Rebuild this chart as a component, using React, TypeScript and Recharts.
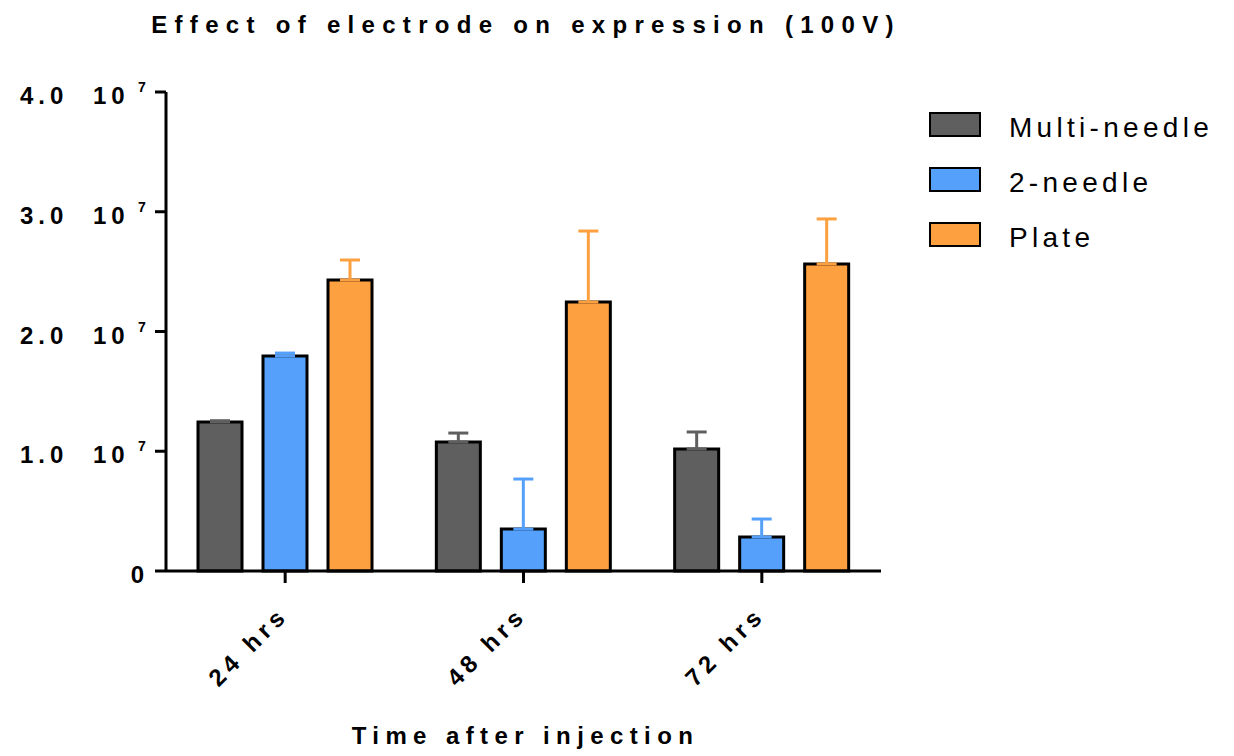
import React from "react";
import { BarChart, Bar, XAxis, YAxis, ErrorBar } from "recharts";

const categories = ["24 hrs", "48 hrs", "72 hrs"];
const multiNeedle = [1.245e7, 1.077e7, 1.019e7];
const multiNeedleErr = [0.01e7, 0.075e7, 0.142e7];
const twoNeedle = [1.795e7, 0.35e7, 0.284e7];
const twoNeedleErr = [0.025e7, 0.418e7, 0.15e7];
const plate = [2.43e7, 2.246e7, 2.564e7];
const plateErr = [0.167e7, 0.593e7, 0.376e7];
const yTicks = [0, 1e7, 2e7, 3e7, 4e7];

const seriesNames = ["Multi-needle", "2-needle", "Plate"];
const colors = ["#5f5f5f", "#55a0fb", "#fda040"];

const data = categories.map((c, i) => ({
  name: c,
  multi: multiNeedle[i],
  multiErr: [0, multiNeedleErr[i]],
  two: twoNeedle[i],
  twoErr: [0, twoNeedleErr[i]],
  plate: plate[i],
  plateErr: [0, plateErr[i]],
}));

const FONT = "'Liberation Sans', Arial, sans-serif";

// Y tick: mantissa, then "10" with a raised exponent
const YTick = (props: any) => {
  const { x, y, payload } = props;
  const v = payload.value as number;
  const axisX = x + 13;
  const base = y + 12;
  if (v === 0) {
    return (
      <text x={axisX - 22} y={base} textAnchor="end" fontFamily={FONT} fontWeight="bold" fontSize={24} fill="#000">
        0
      </text>
    );
  }
  const mant = (v / 1e7).toFixed(1);
  return (
    <g fontFamily={FONT} fontWeight="bold" fill="#000">
      <text x={axisX - 146} y={base} fontSize={24} letterSpacing={5}>
        {mant}
      </text>
      <text x={axisX - 73} y={base} fontSize={24} letterSpacing={5}>
        10
      </text>
      <text x={axisX - 28} y={base - 12} fontSize={14}>
        7
      </text>
    </g>
  );
};

const XTick = (props: any) => {
  const { x, y, payload } = props;
  return (
    <g transform={`translate(${x + 1},${y + 35})`}>
      <text
        x={0}
        y={0}
        dx={5}
        transform="rotate(-45)"
        textAnchor="end"
        fontFamily={FONT}
        fontWeight="bold"
        fontSize={24}
        letterSpacing={5}
        fill="#000"
      >
        {payload.value}
      </text>
    </g>
  );
};

const LegendBox = () => (
  <div style={{ position: "absolute", left: 929, top: 112 }}>
    {seriesNames.map((n, i) => (
      <div key={n} style={{ position: "absolute", left: 0, top: i * 55, width: 300, height: 26 }}>
        <div
          style={{
            position: "absolute",
            left: 0,
            top: 0,
            width: 48,
            height: 21,
            background: colors[i],
            border: "2.5px solid #000",
          }}
        />
        <div
          style={{
            position: "absolute",
            left: 80,
            top: 0,
            fontFamily: FONT,
            fontSize: 28,
            lineHeight: "32px",
            letterSpacing: 4.3,
            color: "#000",
            whiteSpace: "nowrap",
          }}
        >
          {n}
        </div>
      </div>
    ))}
  </div>
);

export default function App() {
  return (
    <div style={{ position: "absolute", left: 0, top: 0, width: 1234, height: 756, background: "#fff" }}>
      <div
        style={{
          position: "absolute",
          left: 0,
          width: 1052,
          top: 11,
          textAlign: "center",
          fontFamily: FONT,
          fontWeight: "bold",
          fontSize: 24,
          letterSpacing: 7.3,
          color: "#000",
          whiteSpace: "nowrap",
        }}
      >
        Effect of electrode on expression (100V)
      </div>
      <BarChart
        width={1234}
        height={756}
        data={data}
        margin={{ top: 92, right: 353, bottom: 65, left: 16 }}
        barCategoryGap={32}
        barGap={21}
      >
        <XAxis
          dataKey="name"
          height={120}
          axisLine={{ stroke: "#000", strokeWidth: 3 }}
          tickLine={{ stroke: "#000", strokeWidth: 3 }}
          tickSize={12}
          tick={<XTick />}
          interval={0}
        />
        <YAxis
          width={150}
          domain={[0, 4e7]}
          ticks={yTicks}
          axisLine={{ stroke: "#000", strokeWidth: 3 }}
          tickLine={{ stroke: "#000", strokeWidth: 3 }}
          tickSize={11}
          tick={<YTick />}
          interval={0}
        />
        <Bar dataKey="multi" fill={colors[0]} stroke="#000" strokeWidth={3} isAnimationActive={false}>
          <ErrorBar dataKey="multiErr" width={10} stroke={colors[0]} strokeWidth={3} direction="y" />
        </Bar>
        <Bar dataKey="two" fill={colors[1]} stroke="#000" strokeWidth={3} isAnimationActive={false}>
          <ErrorBar dataKey="twoErr" width={10} stroke={colors[1]} strokeWidth={3} direction="y" />
        </Bar>
        <Bar dataKey="plate" fill={colors[2]} stroke="#000" strokeWidth={3} isAnimationActive={false}>
          <ErrorBar dataKey="plateErr" width={10} stroke={colors[2]} strokeWidth={3} direction="y" />
        </Bar>
      </BarChart>
      <LegendBox />
      <div
        style={{
          position: "absolute",
          left: 0,
          width: 1051,
          top: 722,
          textAlign: "center",
          fontFamily: FONT,
          fontWeight: "bold",
          fontSize: 24,
          letterSpacing: 6.4,
          color: "#000",
          whiteSpace: "nowrap",
        }}
      >
        Time after injection
      </div>
    </div>
  );
}
